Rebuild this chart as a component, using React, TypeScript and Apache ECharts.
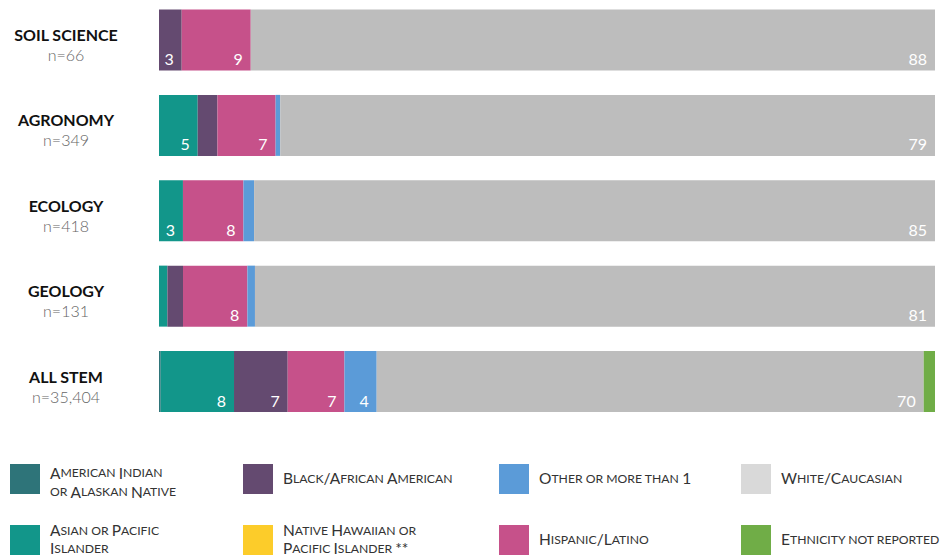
import React, { useEffect, useRef } from "react";
import * as echarts from "echarts";

const categories = ["SOIL SCIENCE", "AGRONOMY", "ECOLOGY", "GEOLOGY", "ALL STEM"];
const sampleSizes = ["n=66", "n=349", "n=418", "n=131", "n=35,404"];

// raw percentages per field (each row is drawn as a 100% bar)
const americanIndian = [0, 0, 0, 0, 0.22];
const asian = [0, 4.67, 2.99, 1.0, 9.38];
const black = [2.92, 2.38, 0, 1.86, 6.87];
const nativeHawaiian = [0, 0, 0, 0, 0];
const hispanic = [8.88, 7.02, 7.55, 7.67, 7.26];
const other = [0, 0.56, 1.33, 0.9, 4.13];
const white = [88, 79, 85, 81, 70];
const notReported = [0, 0, 0, 0, 1.45];

// printed numbers on the segments
const asianLabels = ["", "5", "3", "", "8"];
const blackLabels = ["3", "", "", "", "7"];
const hispanicLabels = ["9", "7", "8", "8", "7"];
const otherLabels = ["", "", "", "", "4"];
const whiteLabels = ["88", "79", "85", "81", "70"];
const noLabels = ["", "", "", "", ""];

const groups = [
  { name: "American Indian or Alaskan Native", display: "American Indian\nor Alaskan Native", values: americanIndian, labels: noLabels, color: "#2e7479", legendColor: "#2e7479" },
  { name: "Asian or Pacific Islander", display: "Asian or Pacific\nIslander", values: asian, labels: asianLabels, color: "#12968a", legendColor: "#12968a" },
  { name: "Black/African American", display: "Black/African American", values: black, labels: blackLabels, color: "#644a70", legendColor: "#644a70" },
  { name: "Native Hawaiian or Pacific Islander **", display: "Native Hawaiian or\nPacific Islander **", values: nativeHawaiian, labels: noLabels, color: "#fccc2a", legendColor: "#fccc2a" },
  { name: "Hispanic/Latino", display: "Hispanic/Latino", values: hispanic, labels: hispanicLabels, color: "#c6518a", legendColor: "#c6518a" },
  { name: "Other or more than 1", display: "Other or more than 1", values: other, labels: otherLabels, color: "#5b9bd8", legendColor: "#5b9bd8" },
  { name: "White/Caucasian", display: "White/Caucasian", values: white, labels: whiteLabels, color: "#bdbdbd", legendColor: "#d9d9d9" },
  { name: "Ethnicity not reported", display: "Ethnicity not reported", values: notReported, labels: noLabels, color: "#70ad47", legendColor: "#70ad47" },
];

const legendColumns = [
  ["American Indian or Alaskan Native", "Asian or Pacific Islander"],
  ["Black/African American", "Native Hawaiian or Pacific Islander **"],
  ["Other or more than 1", "Hispanic/Latino"],
  ["White/Caucasian", "Ethnicity not reported"],
];

const FONT = "Lato, 'Noto Sans', sans-serif";

function smallCaps(text: string): string {
  return text
    .split("\n")
    .map((line) => {
      let out = "";
      let run = "";
      let runBig: boolean | null = null;
      const flush = () => {
        if (run) out += `{${runBig ? "b" : "s"}|${run}}`;
        run = "";
      };
      for (const ch of line) {
        const isLower = ch !== ch.toUpperCase();
        const big = ch === " " ? (runBig ?? true) : !isLower;
        if (runBig !== null && big !== runBig) flush();
        runBig = big;
        run += ch.toUpperCase();
      }
      flush();
      return out;
    })
    .join("\n");
}

export default function App() {
  const ref = useRef<HTMLDivElement>(null);
  useEffect(() => {
    document.body.style.margin = "0";
    if (!ref.current) return;
    const chart = echarts.init(ref.current, null, { renderer: "svg" });

    const totals = categories.map((_, i) => groups.reduce((s, g) => s + g.values[i], 0));

    const series = groups.map((g) => ({
      name: g.name,
      type: "bar",
      stack: "total",
      barWidth: 61,
      itemStyle: { color: g.color },
      label: {
        show: true,
        position: "insideBottomRight",
        distance: 4,
        offset: [-4, 0],
        color: "#fff",
        fontFamily: FONT,
        fontSize: 16,
        formatter: (p: any) => g.labels[p.dataIndex] || "",
      },
      emphasis: { disabled: true },
      data: g.values.map((v, i) => (v / totals[i]) * 100),
    }));

    const legendGraphics: any[] = [];
    const colX = [10, 243, 499, 741];
    const rowY = [464, 525];
    legendColumns.forEach((col, ci) => {
      col.forEach((name, ri) => {
        const g = groups.find((x) => x.name === name)!;
        const twoLines = g.display.includes("\n");
        const lh = twoLines && ri === 1 ? 18 : 19;
        const dy = twoLines ? (ri === 1 ? 14 : 18) : 14;
        legendGraphics.push({
          type: "rect",
          x: colX[ci],
          y: rowY[ri],
          shape: { x: 0, y: 0, width: 30, height: 30 },
          style: { fill: g.legendColor },
        });
        legendGraphics.push({
          type: "text",
          x: colX[ci] + 40,
          y: rowY[ri] + dy,
          style: {
            text: smallCaps(g.display),
            verticalAlign: "middle",
            align: "left",
            fill: "#333",
            rich: {
              b: { fontFamily: FONT, fontSize: 15.5, fill: "#333", lineHeight: lh },
              s: { fontFamily: FONT, fontSize: 12.2, fill: "#333", lineHeight: lh },
            },
          },
        });
      });
    });

    chart.setOption({
      animation: false,
      grid: { left: 159, right: 9, top: 40, height: 341.5 },
      xAxis: { type: "value", min: 0, max: 100, show: false },
      yAxis: {
        type: "category",
        inverse: true,
        boundaryGap: false,
        data: categories,
        axisLine: { show: false },
        axisTick: { show: false },
        splitLine: { show: false },
        axisLabel: {
          margin: 93,
          align: "center",
          padding: [9, 0, 0, 0],
          formatter: (v: string, i: number) => `{t|${v}}\n{n|${sampleSizes[i]}}`,
          rich: {
            t: { fontFamily: FONT, fontWeight: "bold", fontSize: 16, color: "#111", lineHeight: 20, align: "center" },
            n: { fontFamily: FONT, fontWeight: 300, fontSize: 16, color: "#666", lineHeight: 20, align: "center" },
          },
        },
      },
      series,
      graphic: legendGraphics,
    });
    return () => chart.dispose();
  }, []);
  return <div ref={ref} style={{ width: 944, height: 558 }} />;
}
